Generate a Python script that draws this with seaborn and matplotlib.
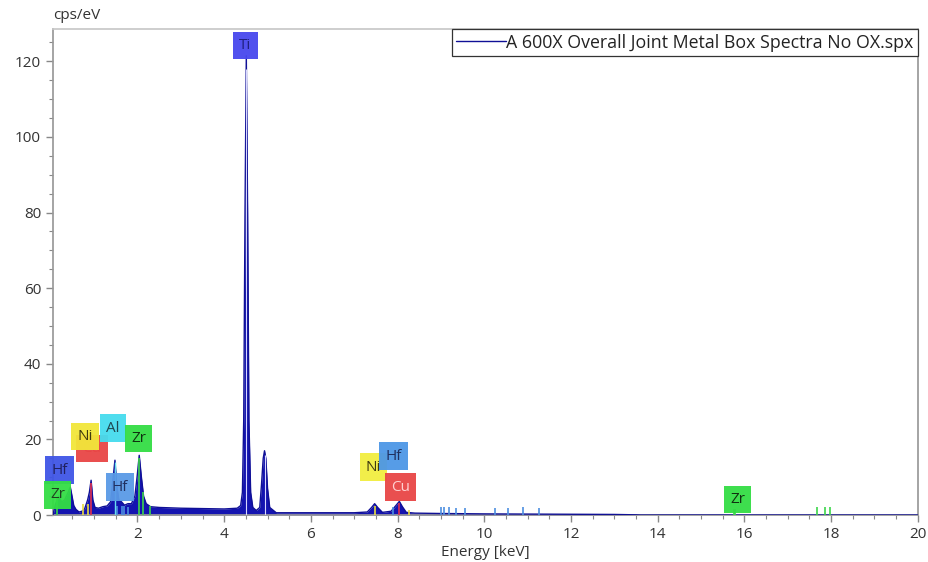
import numpy as np
import pandas as pd
import matplotlib
matplotlib.use("Agg")
import matplotlib.pyplot as plt
import seaborn as sns

# spectrum (keV, cps/eV)
energy = [0.05, 0.10, 0.18, 0.25, 0.32, 0.40, 0.45, 0.49, 0.53, 0.58, 0.65, 0.72, 0.78,
          0.85, 0.89, 0.93, 0.97, 1.02, 1.10, 1.20, 1.30, 1.38, 1.43, 1.48, 1.52, 1.57,
          1.63, 1.70, 1.78, 1.86, 1.94, 1.99, 2.04, 2.09, 2.14, 2.20, 2.30, 2.50, 3.00,
          3.50, 4.00, 4.30, 4.38, 4.42, 4.45, 4.48, 4.51, 4.54, 4.57, 4.61, 4.66, 4.74,
          4.82, 4.86, 4.90, 4.93, 4.96, 5.00, 5.05, 5.20, 6.00, 7.00, 7.30, 7.40, 7.47,
          7.54, 7.65, 7.85, 7.96, 8.04, 8.11, 8.20, 8.40, 9.00, 10.0, 11.0, 12.0, 13.0,
          13.5, 13.6, 20.0]
cps = [0.0, 2.5, 5.0, 3.5, 4.0, 6.0, 7.4, 5.0, 2.5, 1.5, 0.8, 1.0, 1.6,
       4.0, 6.0, 9.2, 4.0, 2.0, 1.8, 2.2, 2.4, 3.5, 9.0, 14.5, 8.0, 4.0,
       3.5, 2.6, 3.0, 3.0, 5.0, 10.0, 15.8, 10.0, 5.0, 3.0, 2.2, 2.0, 1.8,
       1.7, 1.6, 1.8, 2.5, 6.0, 25.0, 80.0, 121.5, 80.0, 25.0, 6.0, 2.0, 1.2,
       2.0, 8.0, 15.0, 17.0, 15.0, 7.0, 2.0, 0.6, 0.6, 0.6, 0.8, 2.0, 3.0,
       2.0, 0.7, 1.0, 2.5, 3.6, 2.2, 0.7, 0.5, 0.4, 0.3, 0.25, 0.2, 0.15,
       0.05, 0.0, 0.0]

# element line markers (keV, height)
zr_lines = [0.15, 2.04, 2.12, 2.30, 15.75, 15.78, 17.67, 17.85, 17.97]
zr_heights = [4.5, 15.0, 6.0, 2.5, 1.6, 1.6, 2.0, 2.0, 2.0]
hf_lines = [1.53, 1.64, 1.70, 1.78, 7.90, 8.99, 9.07, 9.18, 9.35, 9.55, 10.24, 10.54, 10.90, 11.26]
hf_heights = [2.5, 2.5, 2.5, 2.0, 2.0, 2.0, 2.0, 2.0, 1.8, 1.8, 1.8, 1.8, 2.0, 1.8]
ni_lines = [0.74, 0.85, 7.47, 8.26]
ni_heights = [3.0, 3.0, 2.5, 1.2]
cu_lines = [0.93, 8.04]
cu_heights = [8.5, 3.2]
al_lines = [1.49]
al_heights = [14.0]
ti_lines = [4.51, 4.93]
ti_heights = [118.0, 16.0]

# element labels
label_text = ["Hf", "Zr", "Cu", "Ni", "Al", "Zr", "Hf", "Ti", "Ni", "Hf", "Cu", "Zr"]
label_x = [0.20, 0.16, 0.95, 0.79, 1.43, 2.03, 1.60, 4.49, 7.44, 7.91, 8.07, 15.84]
label_y = [11.9, 5.3, 17.6, 20.8, 23.0, 20.3, 7.4, 124.2, 12.7, 15.6, 7.4, 4.2]
label_bg = ["#3f55e6", "#33dd44", "#e84545", "#f2e63a", "#45dcee", "#33dd44", "#5a9ae6",
            "#4848ee", "#f2ee40", "#4d97e6", "#e84545", "#33dd44"]
label_fg = ["#202060", "#204020", "#e84545", "#403a10", "#204850", "#103010", "#203060",
            "#202080", "#403a10", "#203060", "#ffd0d0", "#103010"]
label_z = [6, 6, 5, 7, 6, 6, 6, 6, 6, 6, 6, 6]

sns.set_theme(style="ticks")
plt.rcParams["font.family"] = ["Open Sans", "DejaVu Sans"]

fig = plt.figure(figsize=(9.29, 5.62), dpi=100)
ax = fig.add_axes([0.057, 0.0836, 0.931, 0.8644])

df = pd.DataFrame({"Energy": energy, "cps": cps})
spec_color = "#1414b0"
ax.fill_between(df["Energy"], df["cps"], color=spec_color, linewidth=0, zorder=2)
sns.lineplot(data=df, x="Energy", y="cps", color="#101096", linewidth=1.0, ax=ax,
             label="A 600X Overall Joint Metal Box Spectra No OX.spx", zorder=3)

ax.vlines(zr_lines, 0, zr_heights, color="#3cd64a", linewidth=1.2, zorder=4)
ax.vlines(hf_lines, 0, hf_heights, color="#4d8fe0", linewidth=1.2, zorder=4)
ax.vlines(ni_lines, 0, ni_heights, color="#e8dc40", linewidth=1.2, zorder=4)
ax.vlines(cu_lines, 0, cu_heights, color="#e03050", linewidth=1.2, zorder=4)
ax.vlines(al_lines, 0, al_heights, color="#66ddee", linewidth=1.0, zorder=4)
ax.vlines(ti_lines, 0, ti_heights, color="#d8d8ff", linewidth=0.8, zorder=4)

for t, x, y, bg, fg, z in zip(label_text, label_x, label_y, label_bg, label_fg, label_z):
    ax.text(x, y, t, ha="center", va="center", fontsize=11, color=fg, zorder=z,
            clip_on=False,
            bbox=dict(boxstyle="square,pad=0.4", facecolor=bg, edgecolor="none", alpha=0.95))

ax.set_xlim(0.05, 20)
ax.set_ylim(0, 128.5)
ax.set_xticks(range(2, 21, 2))
ax.set_xticks(np.arange(0.5, 20.01, 0.5), minor=True)
ax.set_yticks(range(0, 121, 20))
ax.set_yticks(range(0, 126, 5), minor=True)
ax.tick_params(axis="both", which="major", labelsize=11, labelcolor="#333333",
               color="#888888", length=5, width=1)
ax.tick_params(axis="both", which="minor", color="#888888", length=3, width=0.8)

ax.set_xlabel("Energy [keV]", fontsize=11, color="#333333", labelpad=2)
ax.set_ylabel("")
ax.text(0.0, 1.012, "cps/eV", transform=ax.transAxes, ha="left", va="bottom",
        fontsize=11, color="#333333")

for side in ["left", "bottom"]:
    ax.spines[side].set_color("#999999")
ax.spines["right"].set_visible(True)
ax.spines["top"].set_visible(True)
ax.spines["right"].set_color("#999999")
ax.spines["top"].set_color("#c8c8c8")

leg = ax.legend(loc="upper right", borderaxespad=0, fontsize=12.8, frameon=True,
                fancybox=False, handlelength=2.8, handletextpad=0.0, borderpad=0.25)
leg.get_frame().set_edgecolor("#333333")
leg.get_frame().set_linewidth(0.9)
leg.get_frame().set_alpha(1)
for txt in leg.get_texts():
    txt.set_color("#222222")

fig.savefig("out.png", dpi=100)
